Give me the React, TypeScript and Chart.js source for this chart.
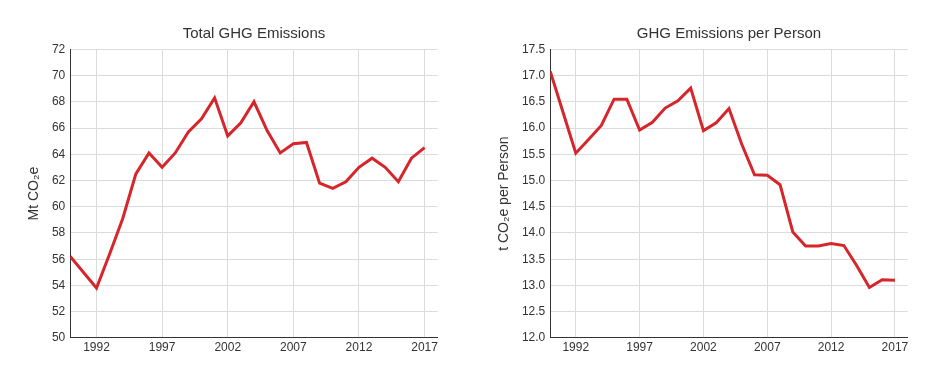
import React, { useEffect, useRef } from "react";
import { Chart, registerables } from "chart.js";

Chart.register(...registerables);

const years = [1990, 1991, 1992, 1993, 1994, 1995, 1996, 1997, 1998, 1999, 2000, 2001, 2002, 2003, 2004, 2005, 2006, 2007, 2008, 2009, 2010, 2011, 2012, 2013, 2014, 2015, 2016, 2017];
const totalEmissions = [56.2, 55.0, 53.8, 56.4, 59.1, 62.5, 64.1, 63.0, 64.1, 65.7, 66.7, 68.3, 65.4, 66.4, 68.0, 65.8, 64.1, 64.8, 64.9, 61.8, 61.4, 61.9, 63.0, 63.7, 63.0, 61.9, 63.7, 64.5];
const perPerson = [17.08, 16.3, 15.52, 15.78, 16.05, 16.55, 16.55, 15.96, 16.11, 16.38, 16.52, 16.76, 15.95, 16.1, 16.37, 15.69, 15.11, 15.1, 14.92, 14.02, 13.75, 13.75, 13.8, 13.76, 13.38, 12.96, 13.11, 13.1];
const xTickYears = [1992, 1997, 2002, 2007, 2012, 2017];

const FONT = "'Liberation Sans', Arial, Helvetica, sans-serif";
const TEXT = "#333333";
const RED = "#d7262b";
const GRID = "#dcdcdc";
const AXIS = "#333333";

type Cfg = {
  title: string;
  yTitle: string;
  values: number[];
  yMin: number;
  yMax: number;
  yStep: number;
  decimals: number;
};

function LineChart({ title, yTitle, values, yMin, yMax, yStep, decimals }: Cfg) {
  const ref = useRef<HTMLCanvasElement | null>(null);
  useEffect(() => {
    if (!ref.current) return;
    const chart = new Chart(ref.current, {
      type: "line",
      data: {
        datasets: [
          {
            data: years.map((y, i) => ({ x: y, y: values[i] })),
            borderColor: RED,
            backgroundColor: RED,
            borderWidth: 3,
            pointRadius: 0,
            tension: 0,
            fill: false,
          },
        ],
      },
      options: {
        animation: false,
        responsive: true,
        maintainAspectRatio: false,
        layout: { padding: { left: 0, right: 18.3, top: 0, bottom: 9.7 } },
        plugins: {
          legend: { display: false },
          tooltip: { enabled: false },
          title: {
            display: true,
            text: title,
            fullSize: false,
            color: TEXT,
            font: { family: FONT, size: 15, weight: "normal" },
            padding: { top: 17, bottom: 6.3 },
          },
        },
        scales: {
          x: {
            type: "linear",
            min: 1990,
            max: 2018,
            afterBuildTicks: (axis: any) => {
              axis.ticks = xTickYears.map((v) => ({ value: v }));
            },
            ticks: {
              color: TEXT,
              font: { family: FONT, size: 12 },
              padding: 3,
              maxRotation: 0,
              autoSkip: false,
              callback: (v: any) => String(v),
            },
            grid: { color: GRID, drawTicks: false, lineWidth: 1 },
            border: { display: true, color: AXIS, width: 1 },
          },
          y: {
            min: yMin,
            max: yMax,
            ticks: {
              stepSize: yStep,
              color: TEXT,
              font: { family: FONT, size: 12 },
              padding: 5,
              callback: (v: any) => Number(v).toFixed(decimals),
            },
            grid: { color: GRID, drawTicks: false, lineWidth: 1 },
            border: { display: true, color: AXIS, width: 1 },
            title: {
              display: true,
              text: yTitle,
              color: TEXT,
              font: { family: FONT, size: 14 },
              padding: { top: 17.6, bottom: 4.5 },
            },
          },
        },
      },
    });
    return () => chart.destroy();
  }, []);
  return (
    <div style={{ position: "relative", width: 448, height: 360 }}>
      <canvas ref={ref} />
    </div>
  );
}

export default function App() {
  return (
    <div style={{ display: "flex", gap: 22, background: "#fff" }}>
      <LineChart
        title="Total GHG Emissions"
        yTitle="Mt CO₂e"
        values={totalEmissions}
        yMin={50}
        yMax={72}
        yStep={2}
        decimals={0}
      />
      <LineChart
        title="GHG Emissions per Person"
        yTitle="t CO₂e per Person"
        values={perPerson}
        yMin={12}
        yMax={17.5}
        yStep={0.5}
        decimals={1}
      />
    </div>
  );
}
